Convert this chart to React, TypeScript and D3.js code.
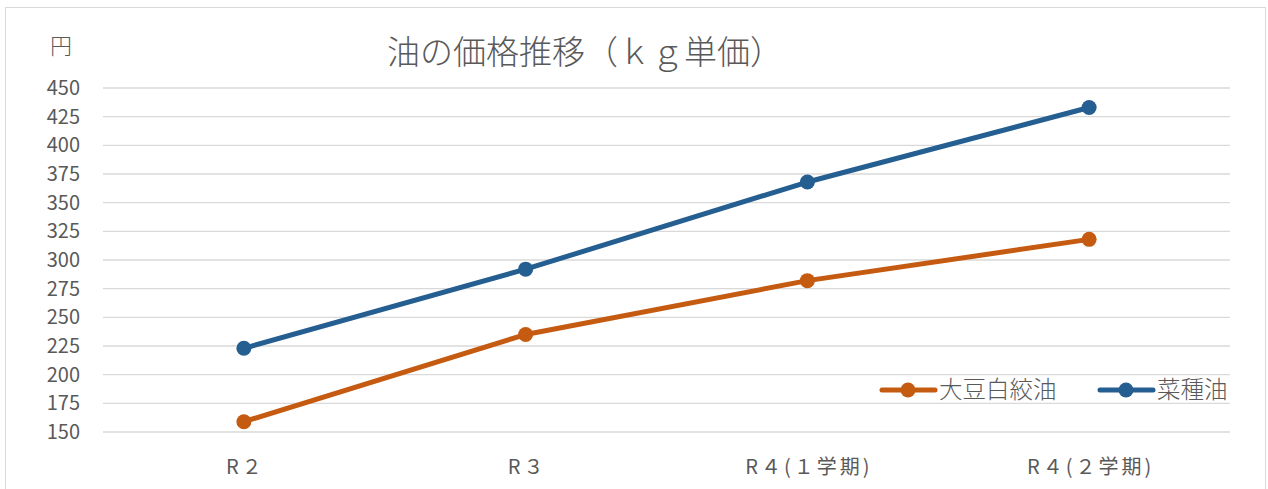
import React, { useEffect, useRef } from 'react';
import * as d3 from 'd3';

// data
const categories = ['R２', 'R３', 'R４(１学期)', 'R４(２学期)'];
const soybean = [159, 235, 282, 318]; // 大豆白絞油
const rapeseed = [223, 292, 368, 433]; // 菜種油
const yTicks = [150, 175, 200, 225, 250, 275, 300, 325, 350, 375, 400, 425, 450];
const seriesNames = ['大豆白絞油', '菜種油'];

const W = 1268;
const H = 489;
const FONT = '"Noto Sans CJK JP", "Noto Sans", sans-serif';
const GREY = '#595959';

export default function App() {
  const ref = useRef<SVGSVGElement>(null);

  useEffect(() => {
    const svg = d3.select(ref.current);
    svg.selectAll('*').remove();

    const x = d3.scaleBand().domain(categories).range([103, 1230]);
    const y = d3.scaleLinear().domain([150, 450]).range([432, 88]);
    const cx = (i: number) => x(categories[i])! + x.bandwidth() / 2;

    // chart frame
    svg.append('rect')
      .attr('x', 5.5).attr('y', 7.5)
      .attr('width', 1260).attr('height', 500)
      .attr('fill', '#fff').attr('stroke', '#d9d9d9');

    // gridlines
    svg.append('g').selectAll('line').data(yTicks).enter().append('line')
      .attr('x1', 103).attr('x2', 1230)
      .attr('y1', d => y(d)).attr('y2', d => y(d))
      .attr('stroke', '#d9d9d9').attr('stroke-width', 1.3);

    // y labels
    svg.append('g').selectAll('text').data(yTicks).enter().append('text')
      .attr('x', 80).attr('y', d => y(d))
      .attr('dy', '0.35em')
      .attr('text-anchor', 'end')
      .attr('font-size', 20).attr('font-family', FONT).attr('fill', GREY)
      .text(d => d);

    svg.append('text')
      .attr('x', 61).attr('y', 46).attr('dy', '0.35em')
      .attr('text-anchor', 'middle')
      .attr('font-size', 22).attr('font-family', FONT).attr('font-weight', 300).attr('fill', GREY)
      .text('円');

    // x labels
    svg.append('g').selectAll('text').data(categories).enter().append('text')
      .attr('x', d => x(d)! + x.bandwidth() / 2 + 1.5).attr('y', 467).attr('dy', '0.35em')
      .attr('text-anchor', 'middle')
      .attr('letter-spacing', 3)
      .attr('font-size', 20).attr('font-family', FONT).attr('fill', GREY)
      .text(d => d);

    // title
    svg.append('text')
      .attr('x', 585).attr('y', 52).attr('dy', '0.35em')
      .attr('text-anchor', 'middle')
      .attr('font-size', 33).attr('font-family', FONT).attr('font-weight', 300).attr('fill', GREY)
      .text('油の価格推移（ｋｇ単価）');

    const line = d3.line<number>()
      .x((d, i) => cx(i))
      .y(d => y(d));

    const series = [
      { name: seriesNames[0], values: soybean, color: '#c55a11' },
      { name: seriesNames[1], values: rapeseed, color: '#255e91' },
    ];

    series.forEach(s => {
      svg.append('path')
        .datum(s.values)
        .attr('d', line)
        .attr('fill', 'none')
        .attr('stroke', s.color)
        .attr('stroke-width', 5)
        .attr('stroke-linejoin', 'round');
      svg.append('g').selectAll('circle').data(s.values).enter().append('circle')
        .attr('cx', (d, i) => cx(i))
        .attr('cy', d => y(d))
        .attr('r', 7.5)
        .attr('fill', s.color);
    });

    // legend
    const legendX = [880, 1098];
    series.forEach((s, i) => {
      const g = svg.append('g').attr('transform', `translate(${legendX[i]},390)`);
      g.append('line').attr('x1', 2).attr('x2', 55).attr('y1', 0).attr('y2', 0)
        .attr('stroke', s.color).attr('stroke-width', 5).attr('stroke-linecap', 'round');
      g.append('circle').attr('cx', 28).attr('cy', 0).attr('r', 7.5).attr('fill', s.color);
      g.append('text').attr('x', 59).attr('y', 0).attr('dy', '0.35em')
        .attr('font-size', 23.5).attr('font-family', FONT).attr('font-weight', 300).attr('fill', GREY)
        .text(s.name);
    });
  }, []);

  return <svg ref={ref} width={W} height={H} style={{ display: 'block', position: 'absolute', left: 0, top: 0 }} />;
}
